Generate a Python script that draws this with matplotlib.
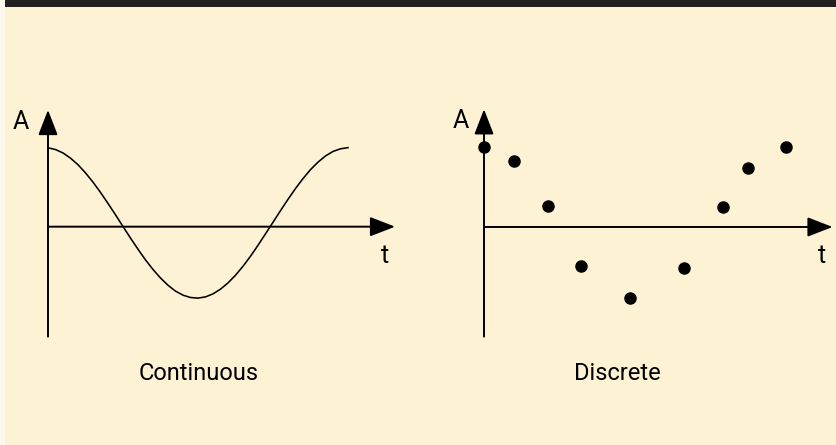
import matplotlib
matplotlib.use('Agg')
import matplotlib.pyplot as plt
from matplotlib.patches import Rectangle

# continuous signal (t in arbitrary units, A in amplitude units)
t_cont = [0, 0.25, 0.5, 0.75, 1, 1.25, 1.5, 1.75, 2, 2.25, 2.5, 2.75, 3, 3.25, 3.5,
          3.75, 4, 4.25, 4.5, 4.75, 5, 5.25, 5.5, 5.75, 6, 6.25, 6.5, 6.75, 7,
          7.25, 7.5, 7.75, 8, 8.25, 8.5, 8.75, 9, 9.25, 9.5, 9.75, 10]
a_cont = [1.038, 1.015, 0.970, 0.902, 0.815, 0.708, 0.586, 0.451, 0.306, 0.156,
          0.002, -0.150, -0.297, -0.437, -0.563, -0.675, -0.771, -0.848, -0.901,
          -0.932, -0.940, -0.924, -0.884, -0.822, -0.740, -0.639, -0.521, -0.389,
          -0.245, -0.094, 0.058, 0.211, 0.360, 0.502, 0.633, 0.751, 0.849, 0.931,
          0.990, 1.025, 1.040]

# discrete samples
t_disc = [0, 1.0, 2.12, 3.24, 4.86, 6.68, 7.97, 8.81, 10.06]
a_disc = [1.057, 0.872, 0.276, -0.509, -0.939, -0.539, 0.267, 0.781, 1.048]

titles = ['Continuous', 'Discrete']
FONT = ['Roboto', 'DejaVu Sans']
BG = '#fef2d4'

fig = plt.figure(figsize=(8.37, 4.45), dpi=100)
fig.patch.set_facecolor(BG)
fig.patches.append(Rectangle((0, 0), 5 / 837, 1, transform=fig.transFigure,
                             facecolor='#fdf8ec', edgecolor='none', zorder=0))
fig.patches.append(Rectangle((5 / 837, 1 - 7 / 445), 1, 7 / 445, transform=fig.transFigure,
                             facecolor='#231f20', edgecolor='none', zorder=0))


def draw_axes(ax, ytop, ybot, xtip):
    style = '-|>,head_length=1.55,head_width=0.6'
    kw = dict(arrowstyle=style, lw=1.4, color='black', mutation_scale=10,
              shrinkA=0, shrinkB=0)
    ax.annotate('', xy=(0, ytop), xytext=(0, ybot), arrowprops=kw)
    ax.annotate('', xy=(xtip, 0), xytext=(0, 0), arrowprops=kw)


# left: continuous
ax1 = fig.add_axes([18 / 837, 100 / 445, 390 / 837, 245 / 445])
ax1.set_xlim(-1.0, 12.0)
ax1.set_ylim(-1.557, 1.667)
ax1.axis('off')
draw_axes(ax1, 1.536, -1.447, 11.57)
ax1.plot(t_cont, a_cont, color='black', lw=1.15)

# right: discrete
ax2 = fig.add_axes([440 / 837, 100 / 445, 397 / 837, 245 / 445])
ax2.set_xlim(-1.467, 11.767)
ax2.set_ylim(-1.553, 1.671)
ax2.axis('off')
draw_axes(ax2, 1.549, -1.443, 11.62)
ax2.plot(t_disc, a_disc, 'o', color='black', ms=8, clip_on=False)

# labels
for x, y, s in [(21, 122, 'A'), (385, 256, 't'), (461, 121, 'A'), (822, 256, 't')]:
    fig.text(x / 837, 1 - y / 445, s, ha='center', va='center', fontsize=18, family=FONT)
fig.text(199 / 837, 1 - 374 / 445, titles[0], ha='center', va='center', fontsize=17, family=FONT)
fig.text(617 / 837, 1 - 374 / 445, titles[1], ha='center', va='center', fontsize=17, family=FONT)

fig.savefig('out.png', dpi=100, facecolor=fig.get_facecolor())
